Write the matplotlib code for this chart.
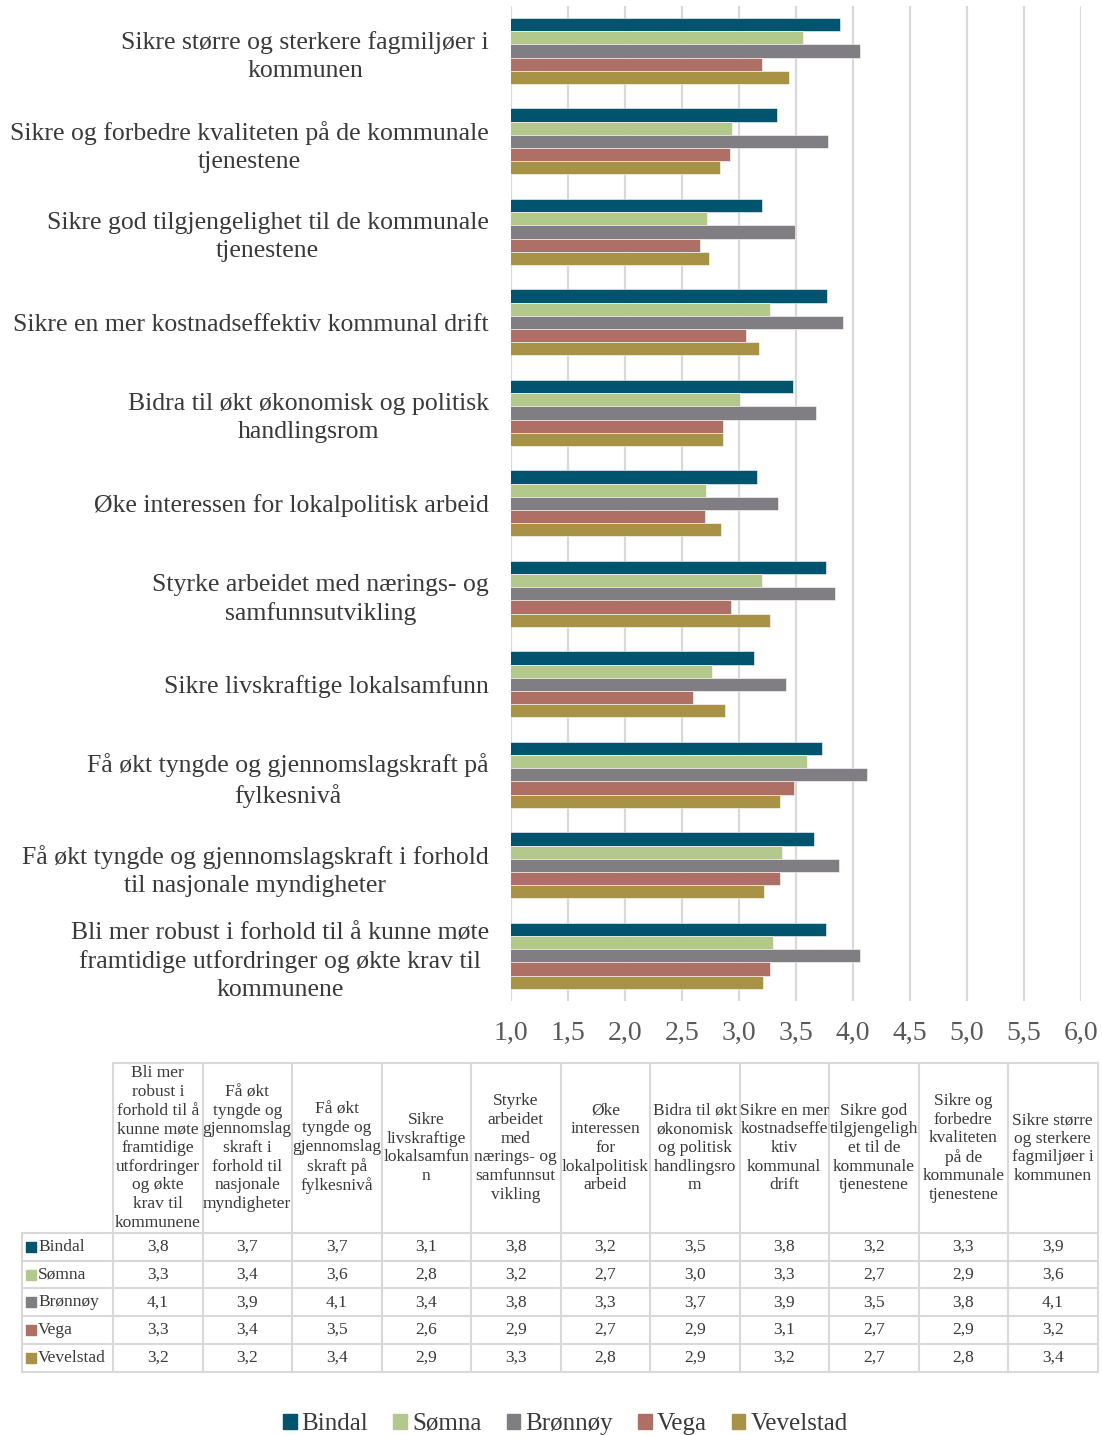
import numpy as np
import matplotlib
matplotlib.use("Agg")
import matplotlib.pyplot as plt
from matplotlib.patches import Patch

plt.rcParams['font.family'] = ['Liberation Serif', 'DejaVu Serif']

# Categories in table order (first = bottom of the bar chart)
categories = [
    "Bli mer robust i forhold til å kunne møte\nframtidige utfordringer og økte krav til\nkommunene",
    "Få økt tyngde og gjennomslagskraft i forhold\ntil nasjonale myndigheter",
    "Få økt tyngde og gjennomslagskraft på\nfylkesnivå",
    "Sikre livskraftige lokalsamfunn",
    "Styrke arbeidet med nærings- og\nsamfunnsutvikling",
    "Øke interessen for lokalpolitisk arbeid",
    "Bidra til økt økonomisk og politisk\nhandlingsrom",
    "Sikre en mer kostnadseffektiv kommunal drift",
    "Sikre god tilgjengelighet til de kommunale\ntjenestene",
    "Sikre og forbedre kvaliteten på de kommunale\ntjenestene",
    "Sikre større og sterkere fagmiljøer i\nkommunen",
]
table_headers = [
    "Bli mer\nrobust i\nforhold til å\nkunne møte\nframtidige\nutfordringer\nog økte\nkrav til\nkommunene",
    "Få økt\ntyngde og\ngjennomslag\nskraft i\nforhold til\nnasjonale\nmyndigheter",
    "Få økt\ntyngde og\ngjennomslag\nskraft på\nfylkesnivå",
    "Sikre\nlivskraftige\nlokalsamfun\nn",
    "Styrke\narbeidet\nmed\nnærings- og\nsamfunnsut\nvikling",
    "Øke\ninteressen\nfor\nlokalpolitisk\narbeid",
    "Bidra til økt\nøkonomisk\nog politisk\nhandlingsro\nm",
    "Sikre en mer\nkostnadseffe\nktiv\nkommunal\ndrift",
    "Sikre god\ntilgjengeligh\net til de\nkommunale\ntjenestene",
    "Sikre og\nforbedre\nkvaliteten\npå de\nkommunale\ntjenestene",
    "Sikre større\nog sterkere\nfagmiljøer i\nkommunen",
]

series = ["Bindal", "Sømna", "Brønnøy", "Vega", "Vevelstad"]
bindal    = [3.76, 3.66, 3.73, 3.13, 3.76, 3.16, 3.47, 3.77, 3.20, 3.33, 3.89]
somna     = [3.30, 3.38, 3.60, 2.76, 3.20, 2.71, 3.01, 3.27, 2.72, 2.94, 3.56]
bronnoy   = [4.06, 3.88, 4.12, 3.41, 3.84, 3.34, 3.68, 3.91, 3.49, 3.78, 4.06]
vega      = [3.27, 3.36, 3.48, 2.60, 2.93, 2.70, 2.86, 3.06, 2.66, 2.92, 3.20]
vevelstad = [3.21, 3.22, 3.36, 2.88, 3.27, 2.84, 2.86, 3.18, 2.74, 2.83, 3.44]
values = [bindal, somna, bronnoy, vega, vevelstad]
colors = ["#00546E", "#B3C98C", "#807E83", "#AE6F65", "#A79245"]

text_col = "#3A3A3A"
grid_col = "#D9D9D9"

fig = plt.figure(figsize=(11.02, 14.35), dpi=100)
ax = fig.add_axes([0.4637, 0.3024, 0.5172, 0.6936])

y = np.arange(len(categories))
h = 0.146
for i, (name, vals, c) in enumerate(zip(series, values, colors)):
    ax.barh(y + (2 - i) * h, vals, height=h, color=c, edgecolor="white",
            linewidth=0.4, label=name, zorder=3)

ax.set_xlim(1.0, 6.0)
ax.set_ylim(-0.5, len(categories) - 0.5)
ax.set_xticks(np.arange(1.0, 6.01, 0.5))
ax.set_xticklabels([f"{v:.1f}".replace(".", ",") for v in np.arange(1.0, 6.01, 0.5)])
ax.set_yticks(y)
ax.set_yticklabels(categories, multialignment="center", linespacing=1.35)
ax.tick_params(axis="y", length=0, pad=16, labelsize=18.5, labelcolor=text_col)
ax.tick_params(axis="x", length=0, pad=14, labelsize=20, labelcolor="#595959")
ax.grid(axis="x", color=grid_col, linewidth=1.6, zorder=0)
for s in ax.spines.values():
    s.set_visible(False)

# Data table drawn below the chart (pixel coordinates)
tax = fig.add_axes([0, 0, 1, 1])
tax.set_xlim(0, 1102)
tax.set_ylim(1435, 0)
tax.axis("off")
tax.patch.set_visible(False)

x0, xl, colw = 22, 113, 89.5
ytop, yhead, rowh = 1063, 1233, 27.7
ncol = len(table_headers)
xr = xl + ncol * colw
ybot = yhead + rowh * len(series)
lw = 1.5
tax.plot([xl, xr], [ytop, ytop], color=grid_col, lw=lw)
for k in range(ncol + 1):
    xx = xl + k * colw
    tax.plot([xx, xx], [ytop, ybot], color=grid_col, lw=lw)
tax.plot([x0, x0], [yhead, ybot], color=grid_col, lw=lw)
for r in range(len(series) + 1):
    yy = yhead + r * rowh
    tax.plot([x0, xr], [yy, yy], color=grid_col, lw=lw)

for k, hd in enumerate(table_headers):
    tax.text(xl + (k + 0.5) * colw, (ytop + yhead) / 2, hd, ha="center", va="center",
             fontsize=12.5, color=text_col, multialignment="center", linespacing=1.22)

for r, (name, vals, c) in enumerate(zip(series, values, colors)):
    yc = yhead + (r + 0.5) * rowh
    tax.scatter([31], [yc], marker="s", s=45, color=c)
    tax.text(38, yc, name, ha="left", va="center", fontsize=12.5, color=text_col)
    for k, v in enumerate(vals):
        tax.text(xl + (k + 0.5) * colw, yc, f"{v:.1f}".replace(".", ","),
                 ha="center", va="center", fontsize=12.5, color=text_col)

handles = [Patch(color=c, label=n) for n, c in zip(series, colors)]
leg = fig.legend(handles=handles, loc="lower center", bbox_to_anchor=(0.513, -0.016),
                 ncol=5, frameon=False, fontsize=18, handlelength=0.55, handleheight=0.55,
                 handletextpad=0.2, columnspacing=1.0)
for t in leg.get_texts():
    t.set_color(text_col)

fig.savefig("out.png", dpi=100)
